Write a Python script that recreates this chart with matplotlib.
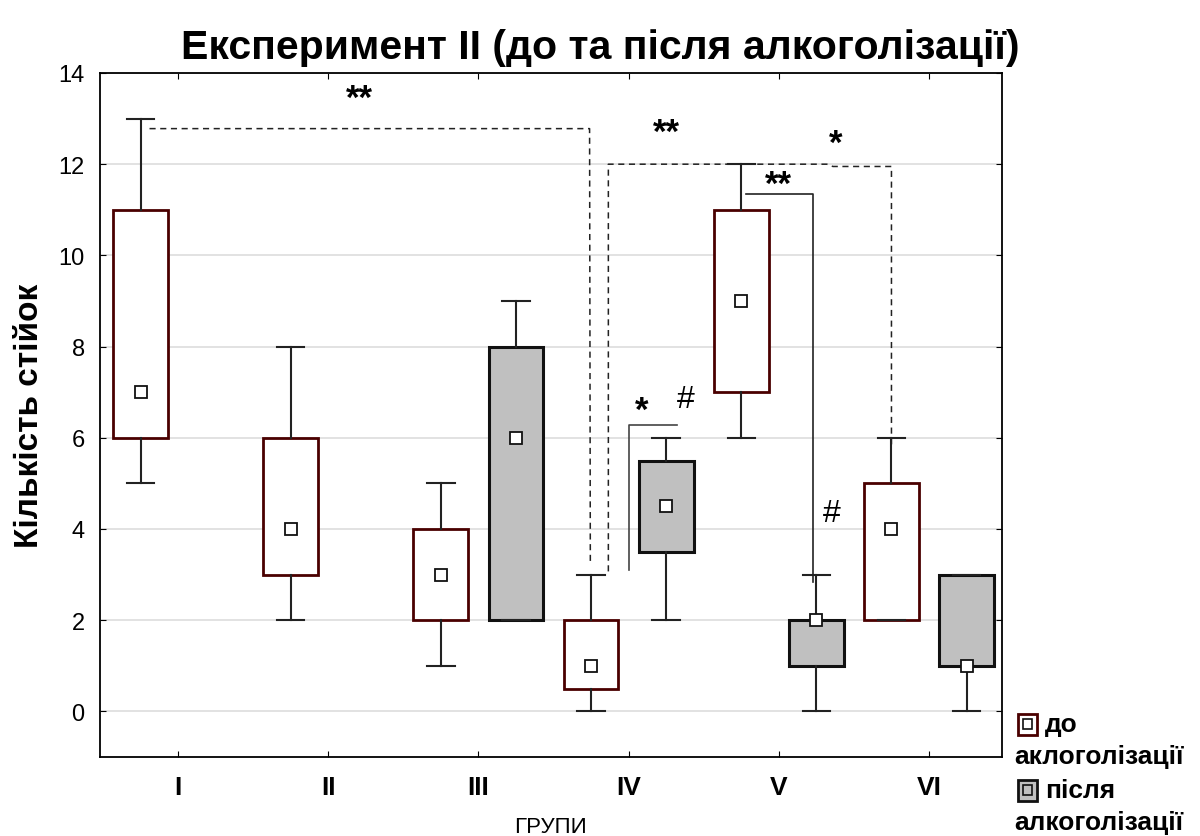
import matplotlib
matplotlib.use('Agg')
import matplotlib.pyplot as plt
from matplotlib.patches import Rectangle

groups = ['I', 'II', 'III', 'IV', 'V', 'VI']

# до алкоголізації: центр (квадрат), межі коробки, вуса
before_mid = [7, 4, 3, 1, 9, 4]
before_q1 = [6, 3, 2, 0.5, 7, 2]
before_q3 = [11, 6, 4, 2, 11, 5]
before_lo = [5, 2, 1, 0, 6, 2]
before_hi = [13, 8, 5, 3, 12, 6]

# після алкоголізації (групи III-VI)
after_groups = [3, 4, 5, 6]
after_mid = [6, 4.5, 2, 1]
after_q1 = [2, 3.5, 1, 1]
after_q3 = [8, 5.5, 2, 3]
after_lo = [2, 2, 0, 0]
after_hi = [9, 6, 3, 3]

# позначки значущості: (x, y, текст)
marks = [(2.21, 13.45, '**'), (4.25, 12.7, '**'), (5.38, 12.45, '*'),
         (5.0, 11.55, '**'), (4.09, 6.6, '*')]
hashes = [(4.38, 6.85), (5.35, 4.35)]

# пунктирні та суцільні скоби
dash1_x = [0.81, 3.74, 3.745]
dash1_y = [12.78, 12.78, 3.29]
dash2_x = [3.865, 3.865, 5.32, 5.36, 5.75, 5.75]
dash2_y = [3.07, 12.0, 12.0, 11.95, 11.95, 5.8]
brk1_x = [4.0, 4.0, 4.32]
brk1_y = [3.09, 6.28, 6.28]
brk2_x = [4.78, 5.225, 5.225]
brk2_y = [11.35, 11.35, 2.83]

off = 0.25
w = 0.365
red = '#4a0000'

plt.rcParams['font.family'] = ['Liberation Sans', 'DejaVu Sans']

fig = plt.figure(figsize=(12, 8.37), dpi=100)
ax = fig.add_axes([0.0833, 0.0944, 0.7517, 0.8172])


def stats(mid, q1, q3, lo, hi):
    out = []
    for m, a, b, l, h in zip(mid, q1, q3, lo, hi):
        out.append(dict(med=m, mean=m, q1=a, q3=b, whislo=l, whishi=h, fliers=[]))
    return out


common = dict(widths=w, showmeans=True, showfliers=False, patch_artist=True,
              whiskerprops=dict(color='#222222', lw=1.5),
              capprops=dict(color='#222222', lw=1.5),
              medianprops=dict(lw=0),
              meanprops=dict(marker='s', markersize=9, markerfacecolor='white',
                             markeredgecolor='#111111', markeredgewidth=1.3),
              manage_ticks=False)

ax.bxp(stats(before_mid, before_q1, before_q3, before_lo, before_hi),
       positions=[i + 1 - off for i in range(len(groups))],
       boxprops=dict(facecolor='white', edgecolor=red, lw=2), **common)
ax.bxp(stats(after_mid, after_q1, after_q3, after_lo, after_hi),
       positions=[g + off for g in after_groups],
       boxprops=dict(facecolor='#c0c0c0', edgecolor='#111111', lw=2.2), **common)

ax.plot(dash1_x, dash1_y, ls=(0, (4, 3)), color='#222222', lw=1.1)
ax.plot(dash2_x, dash2_y, ls=(0, (4, 3)), color='#222222', lw=1.1)
ax.plot(brk1_x, brk1_y, color='#444444', lw=1.2)
ax.plot(brk2_x, brk2_y, color='#222222', lw=1.2)

for x, y, t in marks:
    ax.text(x, y, t, ha='center', va='center', fontsize=25, fontweight='bold')
for x, y in hashes:
    ax.text(x, y, '#', ha='center', va='center', fontsize=23)

ax.set_xlim(0.48, 6.486)
ax.set_ylim(-1, 14)
ax.set_yticks(range(0, 15, 2))
ax.set_xticks(range(1, 7))
ax.set_xticklabels(groups, fontsize=19, fontweight='bold')
ax.tick_params(axis='y', labelsize=17, direction='in', length=4, right=True, pad=11)
ax.tick_params(axis='x', direction='in', length=4, top=True, pad=13)
ax.yaxis.grid(True, color='#dddddd', lw=1.2)
ax.set_axisbelow(True)
for s in ax.spines.values():
    s.set_linewidth(1.3)

ax.set_ylabel('Кількість стійок', fontsize=24, fontweight='bold', labelpad=10)
ax.set_xlabel('ГРУПИ', fontsize=16, labelpad=12)
fig.text(0.5, 0.943, 'Експеримент II (до та після алкоголізації)', ha='center', va='center',
         fontsize=29.5, fontweight='bold')

# легенда вручну
def legend_box(x, y, face, edge):
    fig.add_artist(Rectangle((x, y), 0.0165, 0.025, transform=fig.transFigure,
                             facecolor=face, edgecolor=edge, lw=2))
    fig.add_artist(Rectangle((x + 0.0045, y + 0.0065), 0.0075, 0.012,
                             transform=fig.transFigure, facecolor=face,
                             edgecolor='#111111', lw=1.2))

legend_box(0.848, 0.121, 'white', red)
legend_box(0.848, 0.042, '#c0c0c0', '#111111')
fig.text(0.871, 0.134, 'до', fontsize=19, fontweight='bold', va='center')
fig.text(0.845, 0.095, 'аклоголізації', fontsize=19, fontweight='bold', va='center')
fig.text(0.871, 0.055, 'після', fontsize=19, fontweight='bold', va='center')
fig.text(0.845, 0.017, 'алкоголізації', fontsize=19, fontweight='bold', va='center')

fig.savefig('out.png', dpi=100)
